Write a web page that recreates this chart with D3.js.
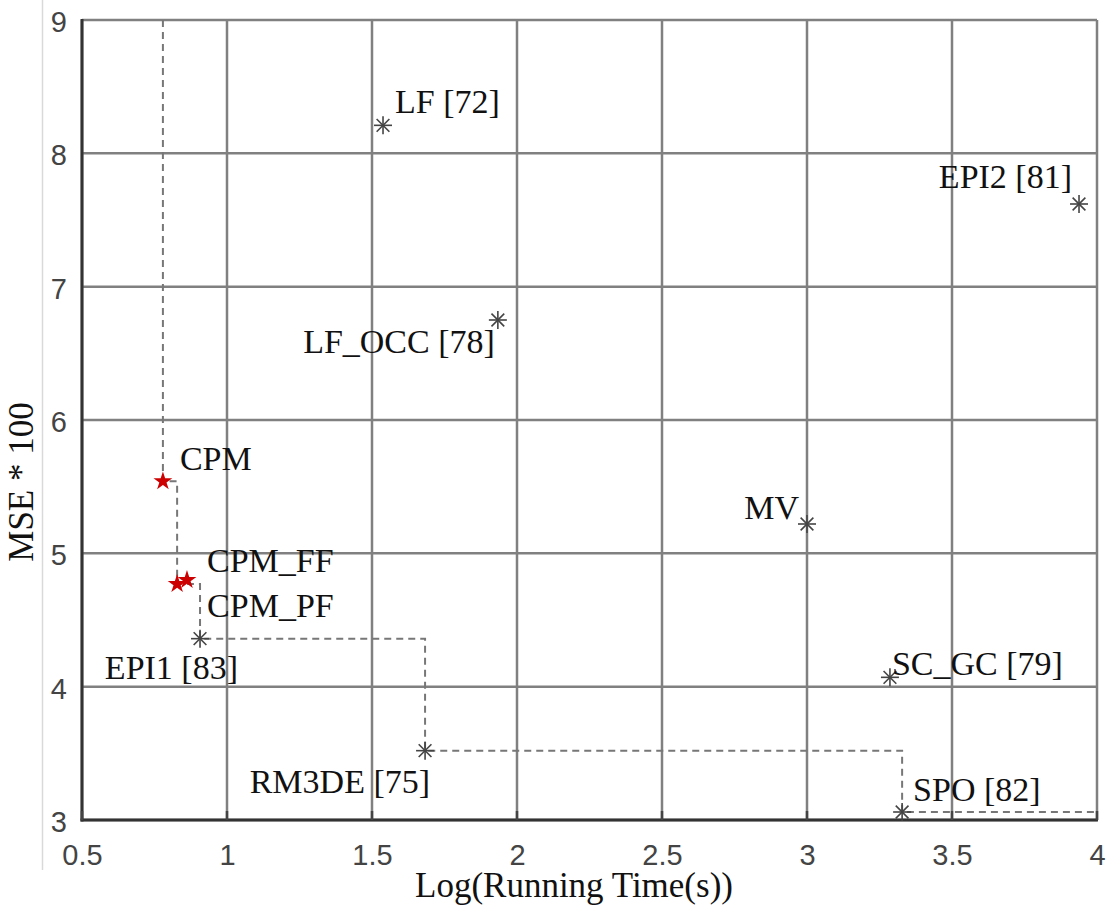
<!DOCTYPE html>
<html lang="en">
<head>
<meta charset="utf-8">
<title>MSE vs running time</title>
<script src="https://d3js.org/d3.v7.min.js"></script>
<style>
  body { margin: 0; background: #fff; }
  .tick-label { font-family: "Liberation Sans", Arial, sans-serif; font-size: 29px; fill: #444; }
  .pt-label { font-family: "Liberation Serif", "Times New Roman", serif; font-size: 34px; fill: #111; }
  .axis-title { font-family: "Liberation Serif", "Times New Roman", serif; font-size: 35px; fill: #111; }
</style>
</head>
<body>
<script>
// method names, log running time and MSE*100
var methods  = ["CPM", "CPM_FF", "CPM_PF", "EPI1 [83]", "RM3DE [75]", "SPO [82]", "LF [72]", "LF_OCC [78]", "EPI2 [81]", "MV", "SC_GC [79]"];
var logTime  = [0.779, 0.862, 0.828, 0.907, 1.683, 3.328, 1.538, 1.934, 3.938, 3.000, 3.286];
var mse      = [5.54, 4.80, 4.77, 4.36, 3.52, 3.06, 8.21, 6.75, 7.62, 5.22, 4.07];
var ours     = ["CPM", "CPM_FF", "CPM_PF"];
// methods on the dashed frontier, left to right
var frontier = ["CPM", "CPM_PF", "EPI1 [83]", "RM3DE [75]", "SPO [82]"];
var xTicks = [0.5, 1, 1.5, 2, 2.5, 3, 3.5, 4];
var yTicks = [3, 4, 5, 6, 7, 8, 9];

// label placement (dx, dy from marker, anchor)
var labelPos = {
  "CPM": [17, -11, "start"],
  "CPM_FF": [20, -8, "start"],
  "CPM_PF": [30, 33, "start"],
  "EPI1 [83]": [38, 40, "end"],
  "RM3DE [75]": [5, 42, "end"],
  "SPO [82]": [11, -11, "start"],
  "LF [72]": [12, -12, "start"],
  "LF_OCC [78]": [-3, 33, "end"],
  "EPI2 [81]": [-7, -16, "end"],
  "MV": [-8, -5, "end"],
  "SC_GC [79]": [2, -2, "start"]
};

var w = 1115, h = 912;
var pLeft = 82, pRight = 1097, pTop = 20, pBottom = 820;

var data = methods.map(function(m, i) {
  return { name: m, x: logTime[i], y: mse[i] };
});

var x = d3.scaleLinear().domain([0.5, 4]).range([pLeft, pRight]);
var y = d3.scaleLinear().domain([3, 9]).range([pBottom, pTop]);

var svg = d3.select("body").append("svg")
  .attr("width", w)
  .attr("height", h);

// faint frame line at the left of the figure
svg.append("line")
  .attr("x1", 42.5).attr("x2", 42.5)
  .attr("y1", 0).attr("y2", 870)
  .attr("stroke", "#d9d9d9")
  .attr("stroke-width", 1.5);

// grid
svg.append("g").selectAll("line")
  .data(xTicks)
  .enter().append("line")
  .attr("x1", function(d) { return x(d); })
  .attr("x2", function(d) { return x(d); })
  .attr("y1", pTop).attr("y2", pBottom)
  .attr("stroke", "#808080")
  .attr("stroke-width", 2.5);

svg.append("g").selectAll("line")
  .data(yTicks)
  .enter().append("line")
  .attr("y1", function(d) { return y(d); })
  .attr("y2", function(d) { return y(d); })
  .attr("x1", pLeft).attr("x2", pRight)
  .attr("stroke", "#808080")
  .attr("stroke-width", 2.5);

// axes (no domain path, just labels)
var xAxis = d3.axisBottom(x).tickValues(xTicks).tickSize(0).tickPadding(0)
  .tickFormat(d3.format("~g"));
var gx = svg.append("g")
  .attr("transform", "translate(0," + pBottom + ")")
  .call(xAxis);
gx.select(".domain").remove();
gx.selectAll("text")
  .attr("class", "tick-label")
  .attr("dy", null)
  .attr("y", 45)
  .attr("fill", null);

var yAxis = d3.axisLeft(y).tickValues(yTicks).tickSize(0).tickPadding(0)
  .tickFormat(d3.format("~g"));
var gy = svg.append("g")
  .attr("transform", "translate(" + pLeft + ",0)")
  .call(yAxis);
gy.select(".domain").remove();
gy.selectAll("text")
  .attr("class", "tick-label")
  .attr("x", -15)
  .attr("dy", "0.4em")
  .attr("fill", null);

// left and bottom axis lines
svg.append("line")
  .attr("x1", pLeft).attr("x2", pLeft)
  .attr("y1", pTop - 1).attr("y2", pBottom + 1.5)
  .attr("stroke", "#333").attr("stroke-width", 3);
svg.append("line")
  .attr("x1", pLeft - 1.5).attr("x2", pRight + 1)
  .attr("y1", pBottom).attr("y2", pBottom)
  .attr("stroke", "#333").attr("stroke-width", 3);

// small inward ticks on the bottom axis
svg.append("g").selectAll("line")
  .data(xTicks)
  .enter().append("line")
  .attr("x1", function(d) { return x(d); })
  .attr("x2", function(d) { return x(d); })
  .attr("y1", pBottom).attr("y2", pBottom - 9)
  .attr("stroke", "#444").attr("stroke-width", 2.5);

// dashed frontier
var byName = {};
data.forEach(function(d) { byName[d.name] = d; });
var stepPts = [[byName[frontier[0]].x, 9]];
frontier.forEach(function(n) { stepPts.push([byName[n].x, byName[n].y]); });
stepPts.push([4, byName[frontier[frontier.length - 1]].y]);

var line = d3.line()
  .x(function(d) { return x(d[0]); })
  .y(function(d) { return y(d[1]); })
  .curve(d3.curveStepAfter);

svg.append("path")
  .attr("d", line(stepPts))
  .attr("fill", "none")
  .attr("stroke", "#777")
  .attr("stroke-width", 2)
  .attr("stroke-dasharray", "7,5");

// asterisk markers for other methods
var others = data.filter(function(d) { return ours.indexOf(d.name) < 0; });
var ast = svg.append("g").selectAll("g")
  .data(others)
  .enter().append("g")
  .attr("transform", function(d) { return "translate(" + x(d.x) + "," + y(d.y) + ")"; });
[0, 45, 90, 135].forEach(function(a) {
  ast.append("line")
    .attr("x1", -9).attr("x2", 9)
    .attr("y1", 0).attr("y2", 0)
    .attr("transform", "rotate(" + a + ")")
    .attr("stroke", "#444")
    .attr("stroke-width", 1.6);
});

// red stars for the proposed methods
var star = d3.symbol().type(d3.symbolStar).size(110);
svg.append("g").selectAll("path")
  .data(data.filter(function(d) { return ours.indexOf(d.name) >= 0; }))
  .enter().append("path")
  .attr("d", star)
  .attr("transform", function(d) { return "translate(" + x(d.x) + "," + y(d.y) + ")"; })
  .attr("fill", "#cc0000");

// point labels
svg.append("g").selectAll("text")
  .data(data)
  .enter().append("text")
  .attr("class", "pt-label")
  .attr("x", function(d) { return x(d.x) + labelPos[d.name][0]; })
  .attr("y", function(d) { return y(d.y) + labelPos[d.name][1]; })
  .attr("text-anchor", function(d) { return labelPos[d.name][2]; })
  .text(function(d) { return d.name; });

// axis titles
svg.append("text")
  .attr("class", "axis-title")
  .attr("x", 574)
  .attr("y", 897)
  .attr("text-anchor", "middle")
  .text("Log(Running Time(s))");

svg.append("text")
  .attr("class", "axis-title")
  .attr("transform", "translate(33," + 482 + ") rotate(-90)")
  .attr("text-anchor", "middle")
  .text("MSE * 100");
</script>
</body>
</html>
